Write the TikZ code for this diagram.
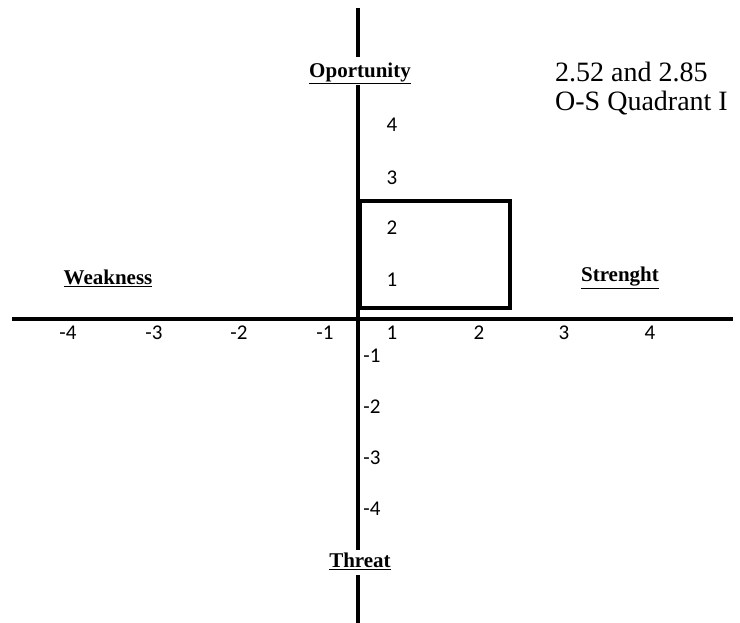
\documentclass[tikz,border=0pt]{standalone}
\usepackage{fontspec}
\setmainfont{Liberation Serif}
\newfontfamily\tickfont{Carlito}
\begin{document}
\begin{tikzpicture}[x=1pt,y=-1pt,
  axis/.style={line width=4.5pt},
  boxline/.style={line width=4pt},
  tick/.style={font=\tickfont\fontsize{21}{21}\selectfont, inner sep=0pt},
  dirlabel/.style={font=\bfseries\fontsize{21}{21}\selectfont, inner sep=0pt},
  note/.style={font=\fontsize{28}{29}\selectfont, inner sep=0pt, align=left, anchor=west}]
\useasboundingbox[fill=white] (0,0) rectangle (740,623);
% axis coordinates
\coordinate (vtop) at (358,8);
\coordinate (vtopend) at (358,57);
\coordinate (vmid) at (358,85);
\coordinate (vmidend) at (358,550);
\coordinate (vbot) at (358,575);
\coordinate (vbotend) at (358,623);
\coordinate (hleft) at (12,319);
\coordinate (hright) at (733,319);
\draw[axis] (vtop) -- (vtopend);
\draw[axis] (vmid) -- (vmidend);
\draw[axis] (vbot) -- (vbotend);
\draw[axis] (hleft) -- (hright);
% box
\coordinate (b1) at (360,201);
\coordinate (b2) at (510,308);
\draw[boxline] (b1) rectangle (b2);
% direction labels
\node[dirlabel] (opp) at (360,73) {\underline{Oportunity}};
\node[dirlabel] (thr) at (360,561) {\underline{Threat}};
\node[dirlabel] (weak) at (108,278) {\underline{Weakness}};
\node[dirlabel] (str) at (620,278) {\underline{Strenght}};
% x ticks
\node[tick] (xm4) at (68,333) {-4};
\node[tick] (xm3) at (154,333) {-3};
\node[tick] (xm2) at (239,333) {-2};
\node[tick] (xm1) at (325,333) {-1};
\node[tick] (xp1) at (392,333) {1};
\node[tick] (xp2) at (479,333) {2};
\node[tick] (xp3) at (564,333) {3};
\node[tick] (xp4) at (650,333) {4};
% y ticks
\node[tick] (yp4) at (392,125) {4};
\node[tick] (yp3) at (392,178) {3};
\node[tick] (yp2) at (392,228) {2};
\node[tick] (yp1) at (392,280) {1};
\node[tick] (ym1) at (372,356) {-1};
\node[tick] (ym2) at (372,407) {-2};
\node[tick] (ym3) at (372,458) {-3};
\node[tick] (ym4) at (372,509) {-4};
% note
\node[note] (nt) at (555,89) {2.52 and 2.85\\O-S Quadrant I};
\end{tikzpicture}
\end{document}
